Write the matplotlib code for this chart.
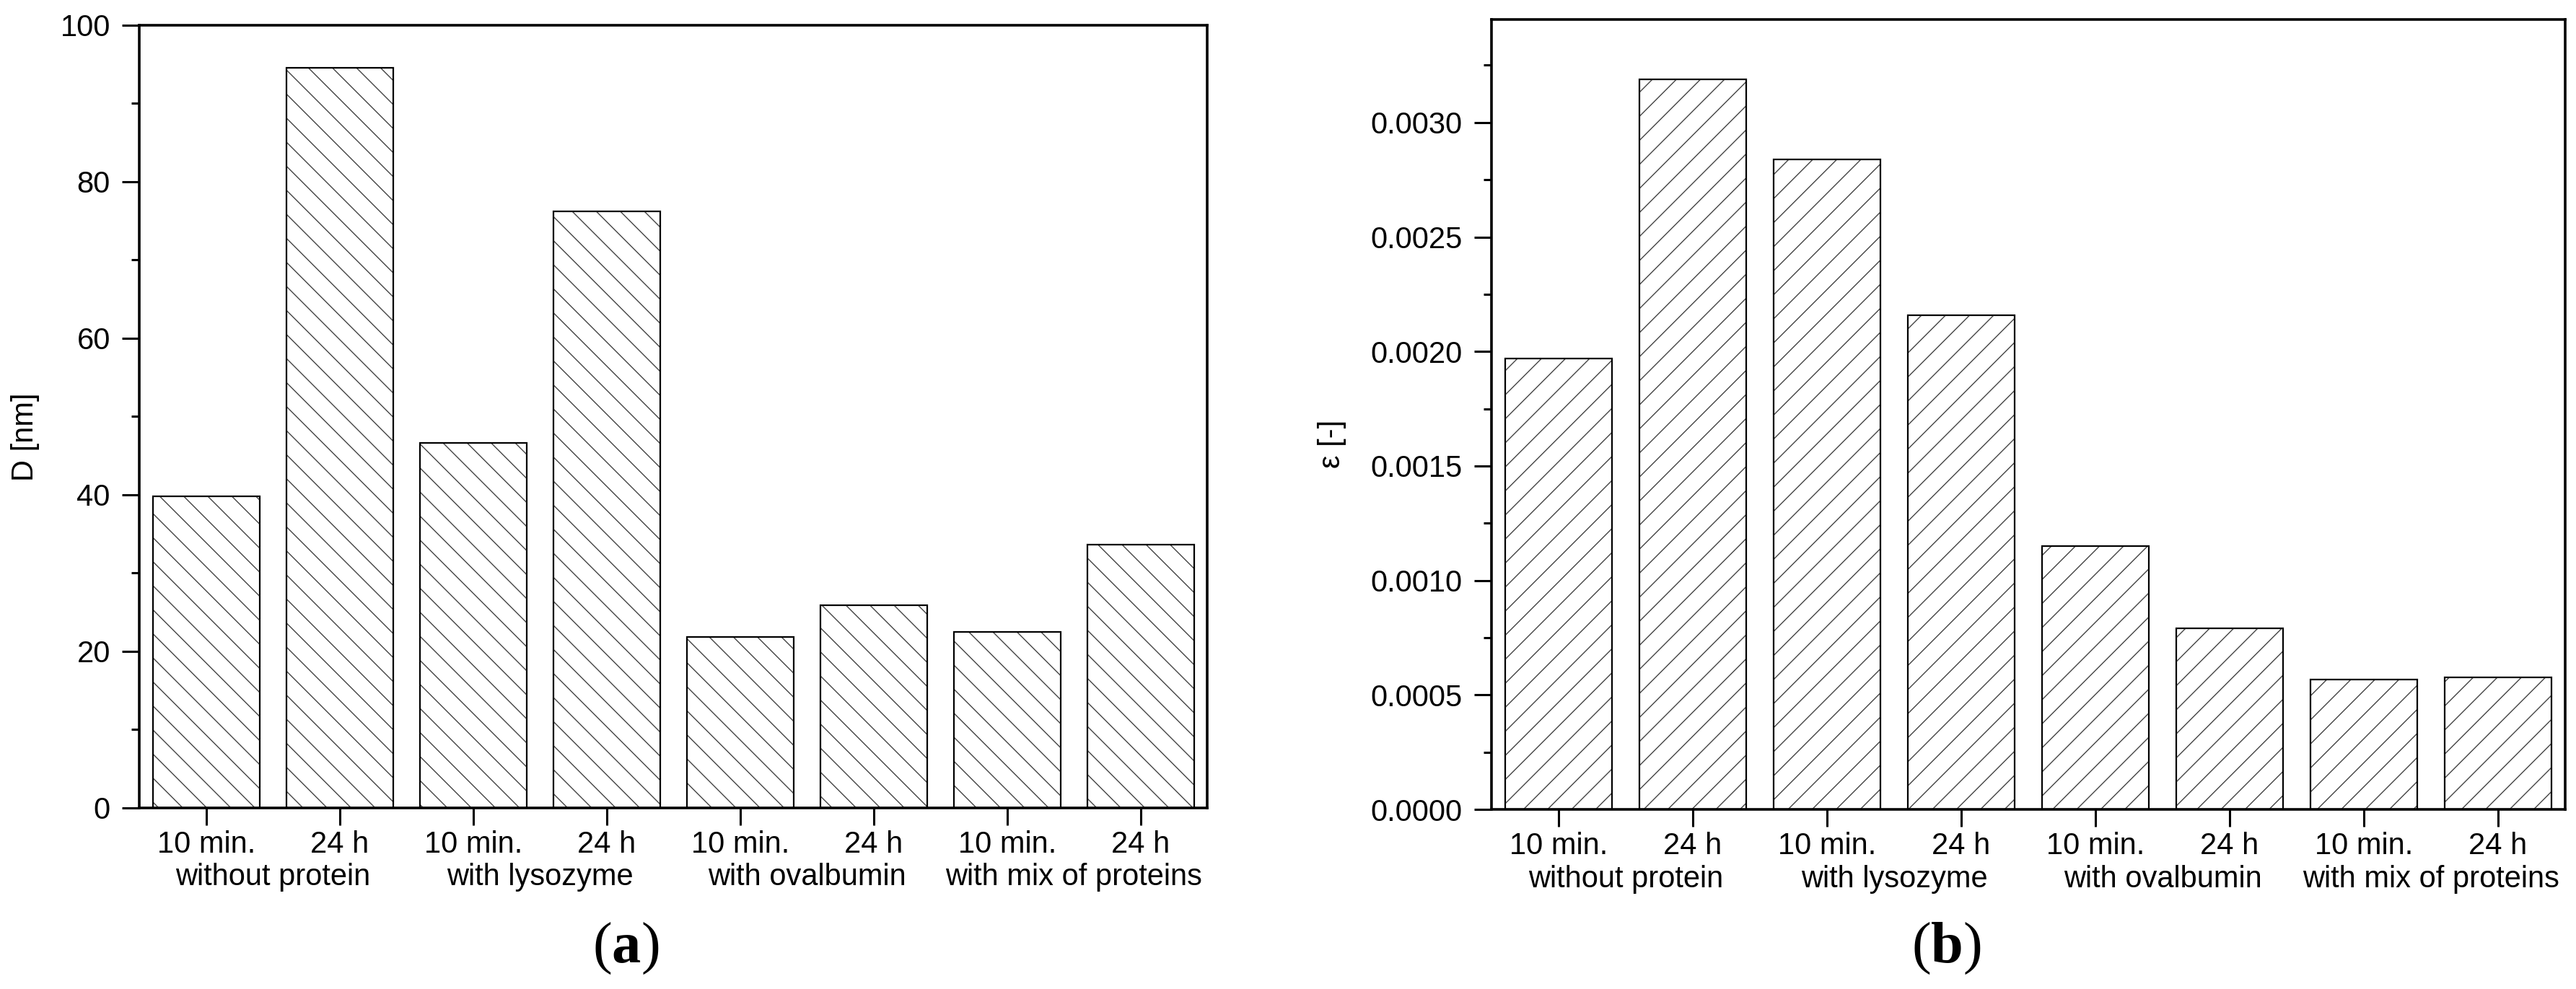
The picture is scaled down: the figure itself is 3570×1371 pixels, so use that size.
import matplotlib
matplotlib.use('Agg')
import matplotlib.pyplot as plt
from matplotlib.ticker import MultipleLocator, FormatStrFormatter
import matplotlib.transforms as mtransforms

# values
times = ['10 min.', '24 h', '10 min.', '24 h', '10 min.', '24 h', '10 min.', '24 h']
groups = ['without protein', 'with lysozyme', 'with ovalbumin', 'with mix of proteins']
size_D = [39.8, 94.6, 46.6, 76.2, 21.8, 25.9, 22.5, 33.6]
strain = [0.00197, 0.00319, 0.002838, 0.002158, 0.00115, 0.000792, 0.000568, 0.000577]

plt.rcParams['font.family'] = ['Liberation Sans', 'DejaVu Sans']
plt.rcParams['font.size'] = 30
plt.rcParams['hatch.linewidth'] = 1.0
plt.rcParams['mathtext.fontset'] = 'custom'
plt.rcParams['mathtext.rm'] = 'Liberation Serif'
plt.rcParams['mathtext.bf'] = 'Liberation Serif:bold'

fig = plt.figure(figsize=(35.7, 13.71), dpi=100)
ax1 = fig.add_axes([0.0541, 0.1831, 0.4146, 0.7914])
ax2 = fig.add_axes([0.5790, 0.1816, 0.4168, 0.7987])

x = list(range(1, 9))


def draw(ax, vals, hatch):
    # hatch in grey first, black outline on top
    ax.bar(x, vals, width=0.8, color='white', edgecolor='#444444', linewidth=0, hatch=hatch)
    ax.bar(x, vals, width=0.8, color='none', edgecolor='black', linewidth=1.6)
    ax.set_xlim(0.5, 8.5)
    ax.set_xticks(x)
    ax.set_xticklabels(times)
    for s in ax.spines.values():
        s.set_linewidth(2.6)
    ax.tick_params(axis='both', which='major', direction='out', length=17, width=2.2, pad=12)
    ax.tick_params(axis='x', pad=5)
    ax.tick_params(axis='y', which='minor', direction='out', length=8, width=2.2)
    ax.tick_params(axis='x', which='minor', bottom=False)
    trans = mtransforms.blended_transform_factory(ax.transData, ax.transAxes)
    for i, g in enumerate(groups):
        ax.text(2 * i + 1.5, -0.0987, g, transform=trans, ha='center', va='baseline', fontsize=30)


draw(ax1, size_D, '\\')
ax1.set_ylim(0, 100)
ax1.yaxis.set_major_locator(MultipleLocator(20))
ax1.yaxis.set_minor_locator(MultipleLocator(10))
ax1.set_ylabel('D [nm]', fontsize=30)
ax1.yaxis.set_label_coords(-0.093, 0.474)

draw(ax2, strain, '/')
ax2.set_ylim(0, 0.00345)
ax2.yaxis.set_major_locator(MultipleLocator(0.0005))
ax2.yaxis.set_minor_locator(MultipleLocator(0.00025))
ax2.yaxis.set_major_formatter(FormatStrFormatter('%.4f'))
ax2.set_ylabel('\u03b5 [-]', fontsize=30)
ax2.yaxis.set_label_coords(-0.135, 0.463)

fig.text(0.243, 0.041, r'($\mathbf{a}$)', ha='center', va='center', fontsize=58, family='Liberation Serif')
fig.text(0.7555, 0.041, r'($\mathbf{b}$)', ha='center', va='center', fontsize=58, family='Liberation Serif')

fig.savefig('out.png', dpi=100, facecolor='white')
